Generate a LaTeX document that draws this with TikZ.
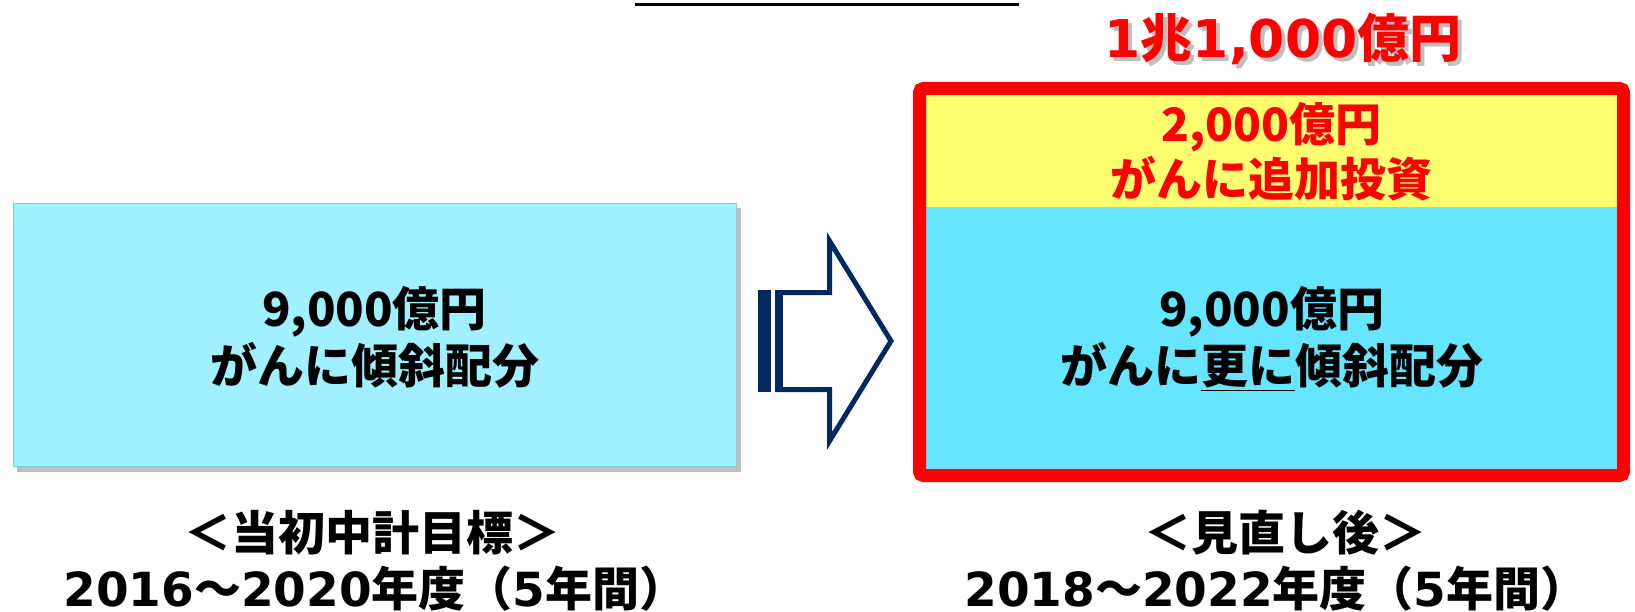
\documentclass[tikz,border=0pt]{standalone}
\usepackage{fontspec}
\setmainfont{Noto Sans CJK JP}
\newfontfamily\dv{DejaVu Sans}
\definecolor{lcyan}{RGB}{160,240,255}
\definecolor{rcyan}{RGB}{102,229,255}
\definecolor{ylw}{RGB}{255,255,112}
\definecolor{navy}{RGB}{0,42,94}
\tikzset{
  boxtext/.style={font=\bfseries\fontsize{47}{57}\selectfont, align=center, text=black, inner sep=0},
  ytext/.style={font=\bfseries\fontsize{46}{55}\selectfont, align=center, text=red, inner sep=0},
  labeltext/.style={font=\bfseries\fontsize{47}{57}\selectfont, align=center, text=black, inner sep=0},
}
\begin{document}
\begin{tikzpicture}[x=1pt,y=-1pt]
\useasboundingbox (0,0) rectangle (1635,612);
% top cut-off underline
\draw[line width=3.5] (635,4.5) -- (1019,4.5);
% left box
\fill[black, opacity=0.25] (17,208) rectangle (741,472);
\node[draw=lcyan!85!black, line width=1, fill=lcyan, minimum width=723, minimum height=263, anchor=north west, inner sep=0] (lbox) at (13,203) {};
\node[boxtext] (ltext) at (374.5,337.5) {9,000億円\\がんに傾斜配分};
% arrow
\fill[navy] (758,290) rectangle (771,392);
\fill[navy] (775,290) rectangle (783,392);
\draw[navy, line width=5, line join=miter] (779,292.5) -- (829.5,292.5) -- (829.5,241) -- (891,341) -- (829.5,441) -- (829.5,389.5) -- (779,389.5) -- cycle;
% right box
\node[fill=ylw, minimum width=691, minimum height=112, anchor=north west, inner sep=0] (ybox) at (926,95) {};
\node[fill=rcyan, minimum width=691, minimum height=262, anchor=north west, inner sep=0] (bbox) at (926,207) {};
\draw[red, line width=13, rounded corners=4] (919.5,88.5) rectangle (1623.5,475.5);
\node[ytext] (ytxt) at (1271.5,151.5) {2,000億円\\がんに追加投資};
\node[boxtext] (btxt) at (1271.5,338.5) {9,000億円\\がんに\underline{更に}傾斜配分};
% total
\node[font=\bfseries\fontsize{52}{52}\selectfont, text=black, opacity=0.25, inner sep=0] (totsh) at (1287,43) {{\dv\bfseries 1}兆{\dv\bfseries 1,000}億円};
\node[font=\bfseries\fontsize{52}{52}\selectfont, text=red, inner sep=0] (tot) at (1283,39) {{\dv\bfseries 1}兆{\dv\bfseries 1,000}億円};
% bottom labels
\node[labeltext] (l1) at (372,533) {＜当初中計目標＞};
\node[labeltext] (l2) at (375,589) {{\dv\bfseries 2016}～{\dv\bfseries 2020}年度（{\dv\bfseries 5}年間）};
\node[labeltext] (r1) at (1285,533) {＜見直し後＞};
\node[labeltext] (r2) at (1276,589) {{\dv\bfseries 2018}～{\dv\bfseries 2022}年度（{\dv\bfseries 5}年間）};
\end{tikzpicture}
\end{document}
